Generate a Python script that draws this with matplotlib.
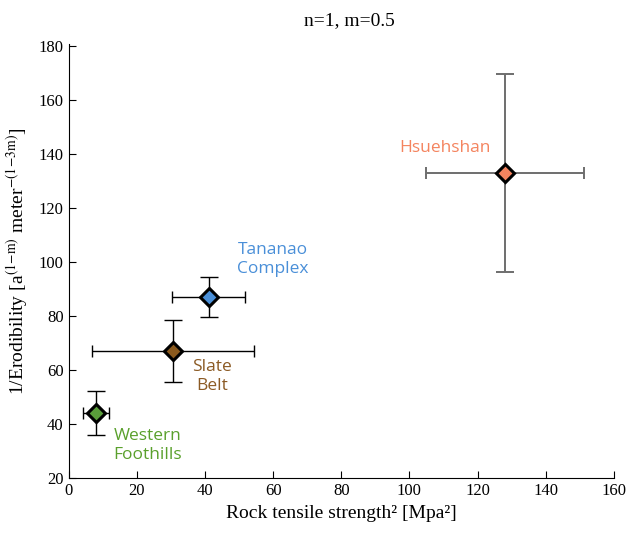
import matplotlib
matplotlib.use('Agg')
import matplotlib.pyplot as plt

# rock units: strength^2 vs 1/erodibility, symmetric error bars
units = ['Western\nFoothills', 'Slate\nBelt', 'Tananao\nComplex', 'Hsuehshan']
strength2 = [8.0, 30.7, 41.1, 128.0]
strength2_err = [3.9, 23.7, 10.7, 23.2]
inv_erod = [44.3, 67.1, 87.1, 133.1]
inv_erod_err = [8.1, 11.6, 7.5, 36.7]
label_x = [23.1, 42.1, 59.9, 110.4]
label_y = [32.3, 57.7, 100.9, 142.3]

face_colors = ['#5a9e3a', '#8b5a1e', '#4a8fd8', '#f4845f']
text_colors = ['#5aa02c', '#8b5a24', '#4a8fd8', '#f4845f']
bar_colors = ['black', 'black', 'black', '#6e6e6e']
bar_widths = [1.0, 1.0, 1.0, 1.4]

plt.rcParams['font.family'] = 'Liberation Serif'
plt.rcParams['mathtext.fontset'] = 'stix'

fig = plt.figure(figsize=(6.29, 5.33), dpi=100)
ax = fig.add_axes([0.109, 0.1026, 0.867, 0.8156])

for i in range(len(units)):
    # vertical and horizontal bars have different cap widths in the original
    ax.errorbar(strength2[i], inv_erod[i], yerr=inv_erod_err[i], fmt='none',
                ecolor=bar_colors[i], elinewidth=bar_widths[i], capsize=6.7,
                capthick=bar_widths[i], zorder=2)
    ax.errorbar(strength2[i], inv_erod[i], xerr=strength2_err[i], fmt='none',
                ecolor=bar_colors[i], elinewidth=bar_widths[i], capsize=4.3,
                capthick=bar_widths[i], zorder=2)
    ax.plot(strength2[i], inv_erod[i], 'D', ms=8.8, mfc=face_colors[i], mec='black',
            mew=2.2, zorder=3)
    ax.text(label_x[i], label_y[i], units[i], color=text_colors[i], fontsize=12.5,
            family='Open Sans', ha='center', va='center', linespacing=1.25)

ax.set_xlim(0, 160)
ax.set_ylim(20, 181)
ax.set_xticks(range(0, 161, 20))
ax.set_yticks(range(20, 181, 20))
ax.tick_params(direction='in', labelsize=12, length=5, width=0.8)
ax.spines['top'].set_visible(False)
ax.spines['right'].set_visible(False)
ax.set_xlabel('Rock tensile strength² [Mpa²]', fontsize=14)
ax.set_ylabel(r'1/Erodibility [a$^{\mathrm{(1\!-\!m)}}$ meter$^{\mathrm{-(1\!-\!3m)}}$]',
              fontsize=14, labelpad=6)

fig.text(0.555, 0.962, 'n=1, m=0.5', fontsize=14, ha='center', va='center')

fig.savefig('out.png')
